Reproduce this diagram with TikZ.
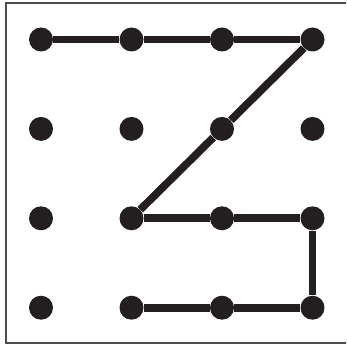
\documentclass[tikz,border=0pt]{standalone}
\usepackage{tikz}
\usetikzlibrary{positioning}
\definecolor{ink}{HTML}{231F20}
\tikzset{
  pt/.style={circle,fill=ink,draw=none,inner sep=0pt,minimum size=0.48cm},
  stroke/.style={draw=ink,line width=0.155cm},
}
\begin{document}
\begin{tikzpicture}[x=0.02cm,y=-0.02cm]
\useasboundingbox (0,0) rectangle (346,347);
\clip (0,0) rectangle (346,347);
\draw[gray!60!black,line width=0.7pt] (6,3) rectangle (352,343);

\node[pt] (a1) at (41,39.5) {};
\node[pt] (a2) at (131.5,39.5) {};
\node[pt] (a3) at (222,39.5) {};
\node[pt] (a4) at (312.5,39.5) {};
\node[pt] (b1) at (41,128.9) {};
\node[pt] (b2) at (131.5,128.9) {};
\node[pt] (b3) at (222,128.9) {};
\node[pt] (b4) at (312.5,128.9) {};
\node[pt] (c1) at (41,218.3) {};
\node[pt] (c2) at (131.5,218.3) {};
\node[pt] (c3) at (222,218.3) {};
\node[pt] (c4) at (312.5,218.3) {};
\node[pt] (d1) at (41,307.7) {};
\node[pt] (d2) at (131.5,307.7) {};
\node[pt] (d3) at (222,307.7) {};
\node[pt] (d4) at (312.5,307.7) {};

\draw[stroke] (a1) -- (a2);
\draw[stroke] (a2) -- (a3);
\draw[stroke] (a3) -- (a4);
\draw[stroke] (a4) -- (b3);
\draw[stroke] (b3) -- (c2);
\draw[stroke] (c2) -- (c3);
\draw[stroke] (c3) -- (c4);
\draw[stroke] (c4) -- (d4);
\draw[stroke] (d4) -- (d3);
\draw[stroke] (d3) -- (d2);

\end{tikzpicture}
\end{document}
